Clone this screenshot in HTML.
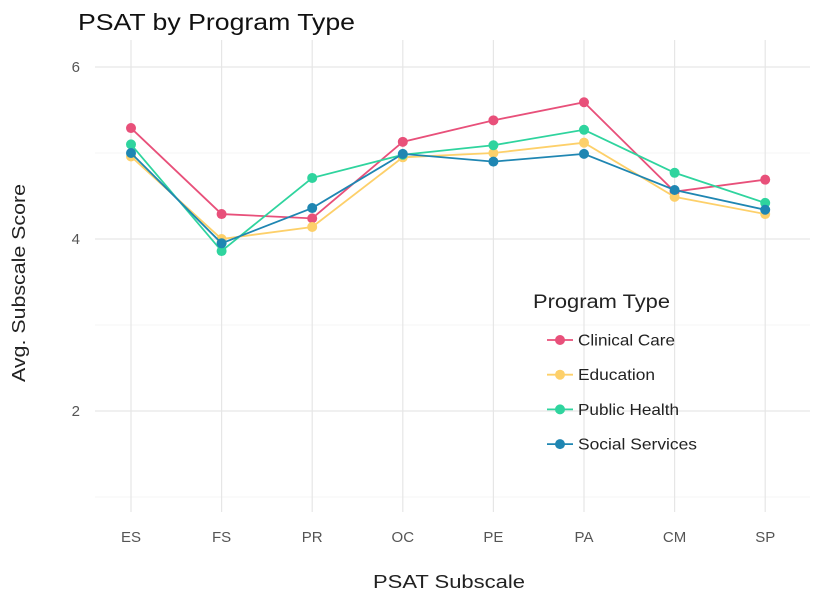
<!DOCTYPE html>
<html><head><meta charset="utf-8"><style>
body{margin:0;background:#fff;font-family:"Liberation Sans",sans-serif}
</style></head><body>
<svg id="chart" width="827" height="600" xmlns="http://www.w3.org/2000/svg" font-family="Liberation Sans, sans-serif">
<rect width="827" height="600" fill="#fff"/>
<text x="78" y="30" font-size="23" textLength="277" lengthAdjust="spacingAndGlyphs" fill="#111">PSAT by Program Type</text>
<text transform="translate(25,283) rotate(-90)" text-anchor="middle" font-size="18" textLength="198" lengthAdjust="spacingAndGlyphs" fill="#222">Avg. Subscale Score</text>
<text x="449" y="588" text-anchor="middle" font-size="18" textLength="152" lengthAdjust="spacingAndGlyphs" fill="#222">PSAT Subscale</text>
<g id="grid"></g><g id="series"></g><g id="legend"></g>
</svg>
<script>
const categories=["ES","FS","PR","OC","PE","PA","CM","SP"];
const seriesNames=["Clinical Care","Education","Public Health","Social Services"];
const seriesColors=["#e8507a","#fdd06a","#2fd49e","#1f86b2"];
const clinicalCare=[5.29,4.29,4.24,5.13,5.38,5.59,4.55,4.69];
const education=[4.96,4.0,4.14,4.95,5.0,5.12,4.49,4.29];
const publicHealth=[5.1,3.86,4.71,4.98,5.09,5.27,4.77,4.42];
const socialServices=[5.0,3.95,4.36,4.99,4.9,4.99,4.57,4.34];
const yTicks=[2,4,6];
const yMinor=[1,3,5];
const seriesData=[clinicalCare,education,publicHealth,socialServices];
const NS="http://www.w3.org/2000/svg";
function xPos(i){return 131+i*90.6;}
function yPos(v){return 411-(v-2)*86;}
function mk(tag,attrs,parent){const e=document.createElementNS(NS,tag);for(const k in attrs)e.setAttribute(k,attrs[k]);parent.appendChild(e);return e;}
const grid=document.getElementById('grid');
yMinor.forEach(v=>{const l=mk('line',{x1:95,x2:810,y1:yPos(v),y2:yPos(v),stroke:'#f0f0f0','stroke-width':0.8},grid);

});
yTicks.forEach(v=>{const l=mk('line',{x1:95,x2:810,y1:yPos(v),y2:yPos(v),stroke:'#e6e6e6','stroke-width':1.2},grid);


const t=mk('text',{x:80,y:yPos(v)+5,'text-anchor':'end','font-size':15,fill:'#555'},grid);t.textContent=v;

});
categories.forEach((c,i)=>{const l=mk('line',{x1:xPos(i),x2:xPos(i),y1:40,y2:512,stroke:'#e6e6e6','stroke-width':1.2},grid);


const t=mk('text',{x:xPos(i),y:542,'text-anchor':'middle','font-size':15,fill:'#555'},grid);t.textContent=c;

});
const sg=document.getElementById('series');
seriesData.forEach((d,s)=>{const g=mk('g',{},sg);


mk('polyline',{points:d.map((v,i)=>xPos(i)+','+yPos(v)).join(' '),fill:'none',stroke:seriesColors[s],'stroke-width':1.8},g);
d.forEach((v,i)=>{const c=mk('circle',{cx:xPos(i),cy:yPos(v),r:5,fill:seriesColors[s]},g);

});});
const lg=document.getElementById('legend');


const lt=mk('text',{x:533,y:308,'font-size':19,textLength:137,lengthAdjust:'spacingAndGlyphs',fill:'#222'},lg);lt.textContent='Program Type';


const legendWidths=[97,77,101,119];
seriesNames.forEach((n,s)=>{const y=340+s*34.7;const g=mk('g',{},lg);


mk('line',{x1:547,x2:573,y1:y,y2:y,stroke:seriesColors[s],'stroke-width':1.8},g);
mk('circle',{cx:560,cy:y,r:5,fill:seriesColors[s]},g);
const t=mk('text',{x:578,y:y+5.5,'font-size':16,textLength:legendWidths[s],lengthAdjust:'spacingAndGlyphs',fill:'#222'},g);t.textContent=n;});
</script>
</body></html>
